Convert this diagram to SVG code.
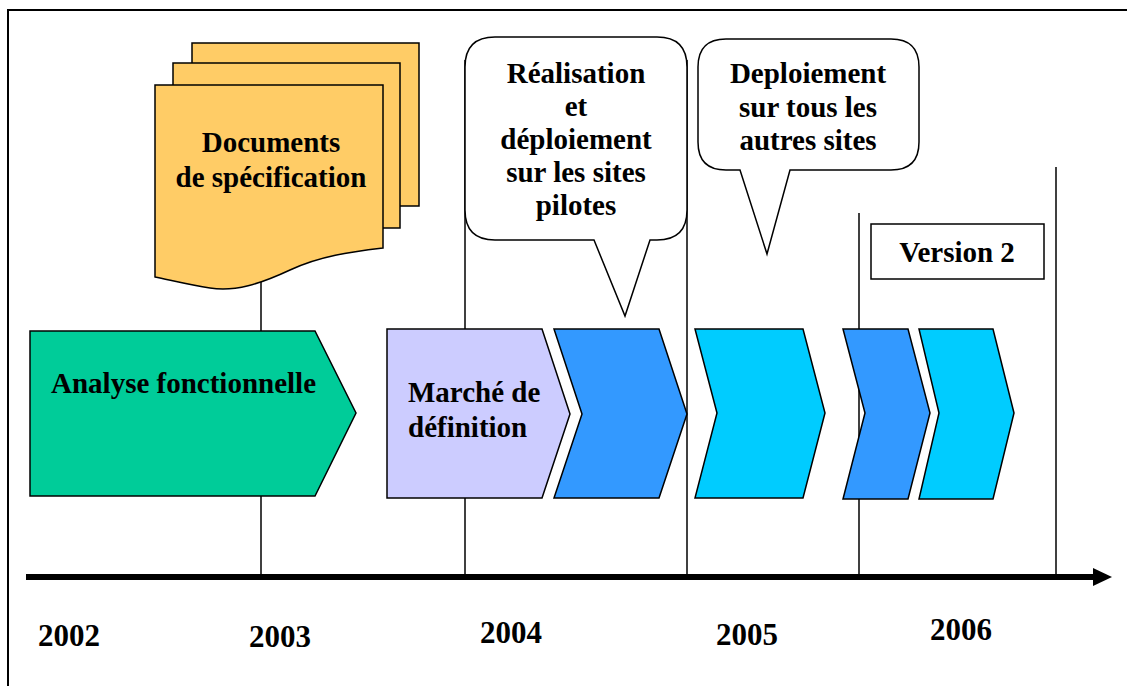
<svg xmlns="http://www.w3.org/2000/svg" width="1127" height="686" viewBox="0 0 1127 686">
<style>
text{font-family:"Liberation Serif","Times New Roman",serif;font-weight:bold;font-size:29px;fill:#000}
.c{text-anchor:middle}
.yr{font-size:31px}
.ln{stroke:#000;stroke-width:1.5;fill:none}
.sh{stroke:#000;stroke-width:1.5;stroke-linejoin:miter}
.green{fill:#00CC99}.lav{fill:#CCCCFF}.blue{fill:#3399FF}.cyan{fill:#00CCFF}.doc{fill:#FFCC66}.wh{fill:#fff}
</style>
<rect width="1127" height="686" fill="#fff"/>
<g id="frame"><path d="M8,686 V10 H1127" fill="none" stroke="#000" stroke-width="2"/></g>
<g id="connectors">
<line class="ln" x1="261" y1="280" x2="261" y2="577"/>
<line class="ln" x1="465" y1="60" x2="465" y2="577"/>
<line class="ln" x1="687" y1="60" x2="687" y2="577"/>
<line class="ln" x1="859" y1="213" x2="859" y2="577"/>
<line class="ln" x1="1056" y1="167" x2="1056" y2="577"/>
<line x1="26" y1="577" x2="1095" y2="577" stroke="#000" stroke-width="6"/>
<polygon points="1093,568 1112,577 1093,586" fill="#000"/>
</g>
<g id="documents">
<rect class="sh doc" x="192" y="43" width="227" height="163"/>
<rect class="sh doc" x="173" y="63" width="227" height="165"/>
<path class="sh doc" d="M155,85 H383 V248 C350,252 320,256 290,270 C260,284 235,292 210,288 C190,285 170,280 155,277 Z"/>
<text class="c" x="271" y="152">Documents</text>
<text class="c" x="271" y="187">de spécification</text>
</g>
<g id="bubble1">
<path class="sh wh" d="M495,37 H657 Q687,37 687,67 V210 Q687,240 657,240 H650 L625,316 L594,240 H495 Q465,240 465,210 V67 Q465,37 495,37 Z"/>
<text class="c" x="576" y="83">Réalisation</text>
<text class="c" x="576" y="116">et</text>
<text class="c" x="576" y="149">déploiement</text>
<text class="c" x="576" y="182">sur les sites</text>
<text class="c" x="576" y="215">pilotes</text>
</g>
<g id="bubble2">
<path class="sh wh" d="M726,39 H891 Q919,39 919,67 V142 Q919,170 891,170 H790 L767,254 L740,170 H726 Q698,170 698,142 V67 Q698,39 726,39 Z"/>
<text class="c" x="808" y="83">Deploiement</text>
<text class="c" x="808" y="117">sur tous les</text>
<text class="c" x="808" y="150">autres sites</text>
</g>
<g id="version2">
<rect class="sh wh" x="871" y="224" width="173" height="55"/>
<text class="c" x="957" y="262">Version 2</text>
</g>
<g id="analyse">
<polygon class="sh green" points="30,331 315,331 356,413 315,496 30,496"/>
<text x="51" y="393">Analyse fonctionnelle</text>
</g>
<g id="marche">
<polygon class="sh lav" points="387,329 542,329 570,414 542,498 387,498"/>
<text x="408" y="402">Marché de</text>
<text x="408" y="437">définition</text>
</g>
<g id="chevron1"><polygon class="sh blue" points="554,329 659,329 687,414 659,498 554,498 582,414"/></g>
<g id="chevron2"><polygon class="sh cyan" points="695,329 803,329 825,413 803,498 695,498 717,413"/></g>
<g id="chevron3"><polygon class="sh blue" points="843,329 908,329 930,413 908,499 843,499 865,413"/></g>
<g id="chevron4"><polygon class="sh cyan" points="919,329 993,329 1014,413 993,499 919,499 939,413"/></g>
<g id="years">
<text class="yr" x="38" y="646" textLength="62" lengthAdjust="spacingAndGlyphs">2002</text>
<text class="yr" x="249" y="647" textLength="62" lengthAdjust="spacingAndGlyphs">2003</text>
<text class="yr" x="480" y="643" textLength="62" lengthAdjust="spacingAndGlyphs">2004</text>
<text class="yr" x="716" y="645" textLength="62" lengthAdjust="spacingAndGlyphs">2005</text>
<text class="yr" x="930" y="640" textLength="62" lengthAdjust="spacingAndGlyphs">2006</text>
</g>
</svg>
